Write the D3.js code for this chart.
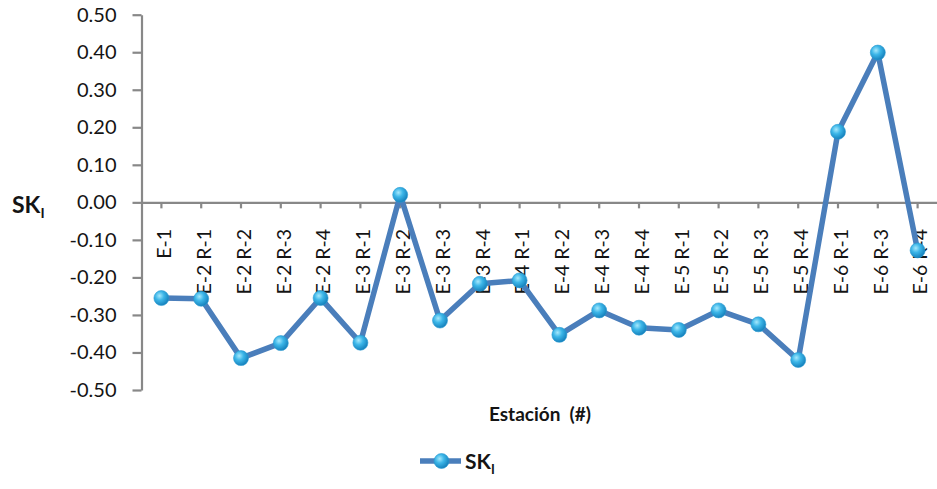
<!DOCTYPE html>
<html>
<head>
<meta charset="utf-8">
<script src="https://cdn.jsdelivr.net/npm/d3@7"></script>
<style>
  html, body { margin: 0; padding: 0; background: #fff; }
  svg { display: block; font-family: Lato, "Open Sans", sans-serif; }
</style>
</head>
<body>
<svg id="chart" width="937" height="489"></svg>
<script>
// Stations along the survey and the skewness index measured at each one
const stations = [
  "E-1", "E-2 R-1", "E-2 R-2", "E-2 R-3", "E-2 R-4",
  "E-3 R-1", "E-3 R-2", "E-3 R-3", "E-3 R-4",
  "E-4 R-1", "E-4 R-2", "E-4 R-3", "E-4 R-4",
  "E-5 R-1", "E-5 R-2", "E-5 R-3", "E-5 R-4",
  "E-6 R-1", "E-6 R-3", "E-6 R-4"
];
const skValues = [
  -0.255, -0.257, -0.415, -0.375, -0.255,
  -0.374, 0.020, -0.315, -0.217,
  -0.208, -0.353, -0.288, -0.334,
  -0.340, -0.288, -0.325, -0.420,
  0.188, 0.399, -0.128
];
const yTicks = [0.5, 0.4, 0.3, 0.2, 0.1, 0.0, -0.1, -0.2, -0.3, -0.4, -0.5];

const svg = d3.select("#chart");
const axisColor = "#888888";
const lineColor = "#4a7ebb";
const textColor = "#141414";

const x = d3.scaleBand().domain(stations).range([141.5, 937.5]).paddingInner(0).paddingOuter(0);
const y = d3.scaleLinear().domain([-0.5, 0.5]).range([390, 14.7]);
const cx = d => x(d) + x.bandwidth() / 2;

// Marker shading
const defs = svg.append("defs");
const grad = defs.append("radialGradient").attr("id", "ball")
  .attr("cx", "38%").attr("cy", "35%").attr("r", "65%");
grad.append("stop").attr("offset", "0%").attr("stop-color", "#a6e8fc");
grad.append("stop").attr("offset", "45%").attr("stop-color", "#3cb6e8");
grad.append("stop").attr("offset", "100%").attr("stop-color", "#1682bd");

// Vertical axis (plain hyphen for negatives)
const yAxis = svg.append("g")
  .attr("transform", "translate(141.5,0)")
  .call(d3.axisLeft(y).tickValues(yTicks).tickFormat(d => d.toFixed(2)).tickSize(9).tickSizeOuter(0).tickPadding(16));
yAxis.select(".domain").attr("stroke", axisColor).attr("stroke-width", 2.2);
yAxis.selectAll(".tick line").attr("stroke", axisColor).attr("stroke-width", 2.2);
yAxis.selectAll(".tick text")
  .attr("fill", textColor).attr("font-size", 20).attr("font-family", "Lato, sans-serif");

// Horizontal axis along zero
const xAxis = svg.append("g")
  .attr("transform", `translate(0,${y(0)})`)
  .call(d3.axisBottom(x).tickSize(6).tickSizeOuter(0));
xAxis.select(".domain").attr("stroke", axisColor).attr("stroke-width", 2.2);
xAxis.selectAll(".tick line").attr("stroke", axisColor).attr("stroke-width", 2.2);
xAxis.selectAll(".tick text")
  .attr("transform", "rotate(-90)")
  .attr("x", -(229 - y(0)))
  .attr("y", 3)
  .attr("dy", "0.35em")
  .attr("text-anchor", "end")
  .attr("fill", textColor)
  .attr("font-size", 19.5)
  .attr("font-family", "Lato, sans-serif");

// Series line
const line = d3.line().x((d, i) => cx(stations[i])).y(d => y(d));
svg.append("path")
  .datum(skValues)
  .attr("d", line)
  .attr("fill", "none")
  .attr("stroke", lineColor)
  .attr("stroke-width", 5.5)
  .attr("stroke-linejoin", "round");

// Series markers
svg.append("g").selectAll("circle")
  .data(skValues)
  .join("circle")
  .attr("cx", (d, i) => cx(stations[i]))
  .attr("cy", d => y(d))
  .attr("r", 7.5)
  .attr("fill", "url(#ball)")
  .attr("stroke", "#2a9ad2")
  .attr("stroke-width", 0.6);

// Axis titles
const yTitle = svg.append("text")
  .attr("x", 12).attr("y", 213)
  .attr("fill", textColor).attr("font-weight", "bold").attr("font-size", 23);
yTitle.append("tspan").text("SK");
yTitle.append("tspan").attr("dy", 5).attr("font-size", 14).text("I");

svg.append("text")
  .attr("x", 540).attr("y", 421)
  .attr("text-anchor", "middle")
  .attr("fill", textColor).attr("font-weight", "bold").attr("font-size", 19)
  .attr("xml:space", "preserve")
  .text("Estación  (#)");

// Legend
const legend = svg.append("g");
legend.append("line")
  .attr("x1", 420).attr("x2", 461).attr("y1", 461).attr("y2", 461)
  .attr("stroke", lineColor).attr("stroke-width", 5.5);
legend.append("circle")
  .attr("cx", 441.5).attr("cy", 461).attr("r", 7.5)
  .attr("fill", "url(#ball)").attr("stroke", "#2a9ad2").attr("stroke-width", 0.6);
const legText = legend.append("text")
  .attr("x", 465).attr("y", 469)
  .attr("fill", textColor).attr("font-weight", "bold").attr("font-size", 21);
legText.append("tspan").text("SK");
legText.append("tspan").attr("dy", 5).attr("font-size", 13).text("I");
</script>
</body>
</html>
